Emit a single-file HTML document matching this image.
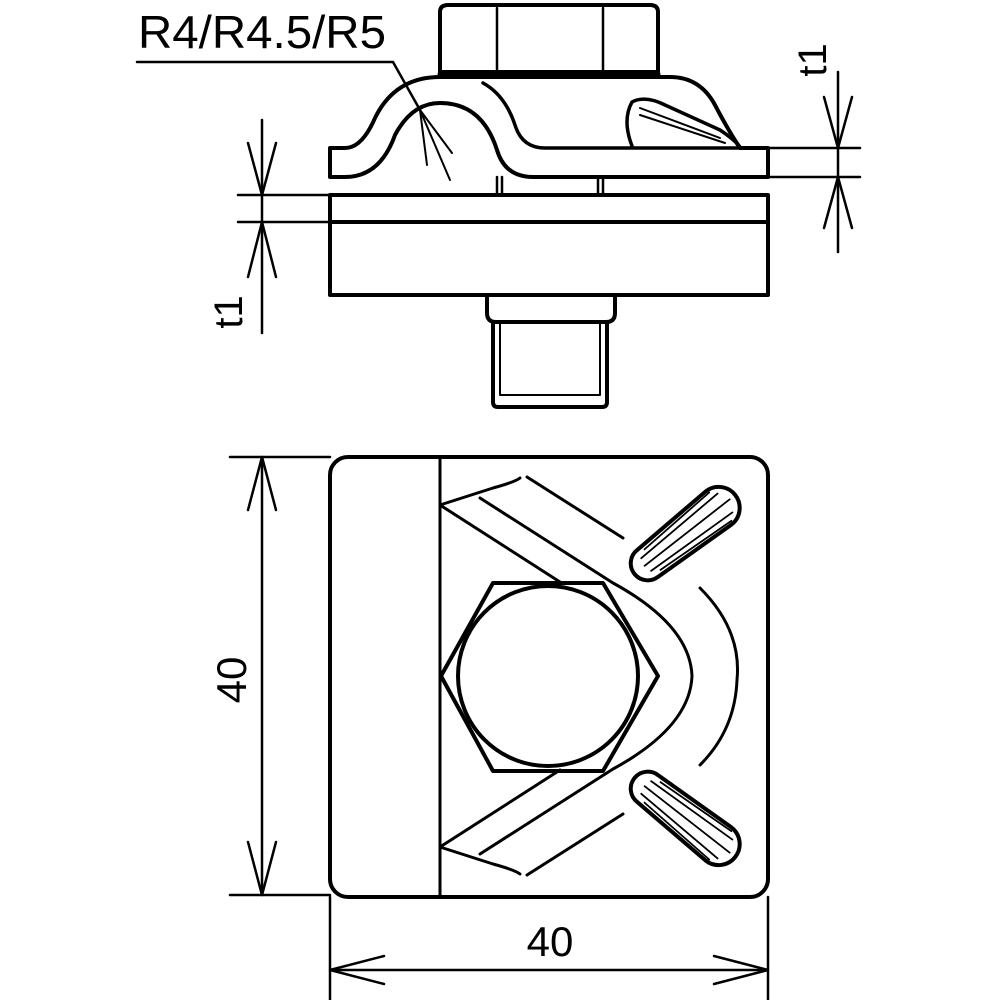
<!DOCTYPE html>
<html><head><style>html,body{margin:0;padding:0;background:#fff}svg{display:block}</style></head>
<body>
<svg width="1000" height="1000" viewBox="0 0 1000 1000" xmlns="http://www.w3.org/2000/svg" fill="none" stroke="#000" stroke-linejoin="round" stroke-linecap="round">
<!-- TOP VIEW -->
<path d="M440 72 V12 Q440 5 448 5 H650 Q658 5 658 12 V72 Z" stroke-width="4"/>
<line x1="497" y1="8" x2="497" y2="72" stroke-width="2.5"/>
<line x1="603" y1="8" x2="603" y2="72" stroke-width="2.5"/>
<line x1="440" y1="74" x2="658" y2="74" stroke-width="5"/>
<path d="M330 148 H345 Q362 148 375 118 Q395 77 440 77 H670 Q700 77 715 105 Q728 130 740 148 H768 V177 H533 Q505 177 497 150 Q482 103 440 103 Q412 103 395 135 Q380 177 345 177 H330 Z" stroke-width="4"/>
<path d="M483 83 Q505 95 515 125 Q522 148 545 148 H740" stroke-width="3.5"/>
<path d="M632 146 Q622 120 632 102 Q645 95 665 105 L720 130 Q735 140 740 147" stroke-width="3.5"/>
<path d="M640 108 L720 138 M640 115 L725 143" stroke-width="2"/>
<path d="M497 177 V195 M502 177 V195 M598 177 V195 M603 177 V195" stroke-width="2.5"/>
<rect x="330" y="195" width="438" height="100" stroke-width="4"/>
<line x1="330" y1="222" x2="768" y2="222" stroke-width="4"/>
<path d="M487 295 V313 Q487 322 496 322 H606 Q615 322 615 313 V295" stroke-width="4"/>
<path d="M493 322 V402 Q493 407 498 407 H602 Q607 407 607 402 V322" stroke-width="4"/>
<path d="M500 322 V395 H600 V322" stroke-width="2"/>
<text x="138" y="48" font-family="Liberation Sans, sans-serif" font-size="46" textLength="248" lengthAdjust="spacingAndGlyphs" fill="#000" stroke="none">R4/R4.5/R5</text>
<path d="M137 62 H393 L420 110" stroke-width="2.5"/>
<path d="M420 110 L427 165 M420 110 L452 153 M420 110 L450 180" stroke-width="2"/>
<path d="M262 120 V333 M238 195 H330 M238 222 H330" stroke-width="2.5"/>
<path d="M248 143 L262 195 L276 143 M248 277 L262 222 L276 277" stroke-width="2.5"/>
<text transform="translate(242,312) rotate(-90)" text-anchor="middle" font-family="Liberation Sans, sans-serif" font-size="40" fill="#000" stroke="none">t1</text>
<path d="M838 72 V252 M768 148 H860 M768 177 H860" stroke-width="2.5"/>
<path d="M824 97 L838 148 L852 97 M824 228 L838 177 L852 228" stroke-width="2.5"/>
<text transform="translate(826,60) rotate(-90)" text-anchor="middle" font-family="Liberation Sans, sans-serif" font-size="40" fill="#000" stroke="none">t1</text>

<!-- BOTTOM VIEW -->
<rect x="330" y="457" width="438" height="440" rx="18" stroke-width="4"/>
<line x1="440" y1="457" x2="440" y2="897" stroke-width="3"/>
<polygon points="493,583 603,583 658,676 603,771 493,771 441,676" stroke-width="4"/>
<circle cx="548" cy="676" r="90" stroke-width="4"/>
<path d="M440 505 L560 582" stroke-width="3"/>
<path d="M440 847 L560 770" stroke-width="3"/>
<path d="M440 505 L493 488 Q515 482 520 478" stroke-width="3"/>
<path d="M440 847 L493 864 Q515 870 520 874" stroke-width="3"/>
<path d="M480 498 L613 583 Q690 625 692 676 Q690 727 613 769 L480 854" stroke-width="3"/>
<path d="M527 477 L623 538" stroke-width="3"/>
<path d="M527 875 L623 814" stroke-width="3"/>
<path d="M700 588 Q742 630 737 680 Q735 730 700 765" stroke-width="3"/>
<g transform="translate(684,535) rotate(-38)">
<path d="M-46 -17 A17 17 0 0 0 -46 17 L44 21 A21 21 0 0 0 44 -21 Z" stroke-width="4"/>
<path d="M-48 -8 L52 -12 M-50 0 L58 0 M-48 8 L52 12 M-40 -13 L46 -18 M-40 13 L46 18" stroke-width="1.8"/>
</g>
<g transform="translate(684,817) rotate(38)">
<path d="M-46 -17 A17 17 0 0 0 -46 17 L44 21 A21 21 0 0 0 44 -21 Z" stroke-width="4"/>
<path d="M-48 -8 L52 -12 M-50 0 L58 0 M-48 8 L52 12 M-40 -13 L46 -18 M-40 13 L46 18" stroke-width="1.8"/>
</g>
<path d="M262 457 V895 M230 457 H330 M230 895 H330" stroke-width="2.5"/>
<path d="M248 510 L262 457 L276 510 M248 842 L262 895 L276 842" stroke-width="2.5"/>
<text transform="translate(246,680) rotate(-90)" text-anchor="middle" font-family="Liberation Sans, sans-serif" font-size="42" fill="#000" stroke="none">40</text>
<path d="M330 897 V1000 M768 897 V1000 M330 970 H768" stroke-width="2.5"/>
<path d="M384 956 L330 970 L384 984 M714 956 L768 970 L714 984" stroke-width="2.5"/>
<text x="550" y="956" text-anchor="middle" font-family="Liberation Sans, sans-serif" font-size="42" fill="#000" stroke="none">40</text>
</svg>
</body></html>
